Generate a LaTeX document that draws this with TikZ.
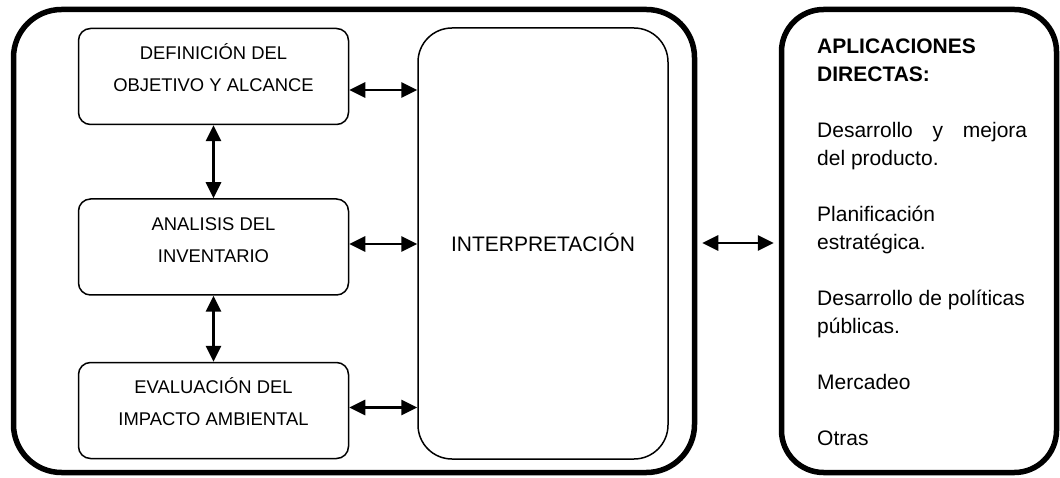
\documentclass[tikz,border=0pt]{standalone}
\usepackage{fontspec}
\setmainfont{Liberation Sans}
\usetikzlibrary{arrows.meta}
\begin{document}
\begin{tikzpicture}[x=1pt,y=-1pt,
  bigbox/.style={draw, line width=5.5pt, rounded corners=48pt, minimum height=463pt, inner sep=0pt},
  stepbox/.style={draw, line width=1.5pt, rounded corners=12pt, minimum width=270pt, minimum height=96pt, inner sep=0pt,
    font=\fontsize{18.4}{32}\selectfont},
  interpbox/.style={draw, line width=1.5pt, rounded corners=34pt, minimum width=250pt, minimum height=431pt, inner sep=0pt,
    font=\fontsize{21}{28}\selectfont},
  arr/.style={{Triangle[length=16pt,width=15pt]}-{Triangle[length=16pt,width=15pt]}, line width=2.7pt}
]
\useasboundingbox (0,0) rectangle (1060,478);

\node[bigbox, minimum width=681pt] (outerL) at (354,241) {};
\node[bigbox, minimum width=275pt, rounded corners=42pt] (appl) at (919,241) {};

\node[stepbox] (b1) at (213.5,76.5) {\begin{tabular}{@{}c@{}}DEFINICIÓN DEL\\OBJETIVO Y ALCANCE\\[14pt]\end{tabular}};
\node[stepbox] (b2) at (213.5,247) {\begin{tabular}{@{}c@{}}ANALISIS DEL\\INVENTARIO\\[14pt]\end{tabular}};
\node[stepbox] (b3) at (213.5,410.5) {\begin{tabular}{@{}c@{}}EVALUACIÓN DEL\\IMPACTO AMBIENTAL\\[14pt]\end{tabular}};

\node[interpbox] (interp) at (543,243.5) {\raisebox{1.5pt}{INTERPRETACIÓN}};

\node[anchor=base west, inner sep=0pt] (rtext) at (817,54) {\parbox[t]{210pt}{\fontsize{21}{28}\selectfont
\textbf{APLICACIONES\\DIRECTAS:}\par\vspace{28pt}
\makebox[\linewidth][s]{Desarrollo y mejora}\\del producto.\par\vspace{28pt}
Planificación\\estratégica.\par\vspace{28pt}
Desarrollo de políticas\\públicas.\par\vspace{28pt}
Mercadeo\par\vspace{28pt}
Otras}};

\draw[arr] (b1.south) -- (b2.north);
\draw[arr] (b2.south) -- (b3.north);
\draw[arr] ([yshift=-13.5pt]b1.east) -- ([yshift=-13.5pt]b1.east -| interp.west);
\draw[arr] ([yshift=3pt]b2.east) -- ([yshift=3pt]b2.east -| interp.west);
\draw[arr] ([yshift=3pt]b3.east) -- ([yshift=3pt]b3.east -| interp.west);
\draw[arr, shorten <=5pt, shorten >=5pt] ([yshift=-2pt]outerL.east) -- ([yshift=-2pt]outerL.east -| appl.west);
\end{tikzpicture}
\end{document}
